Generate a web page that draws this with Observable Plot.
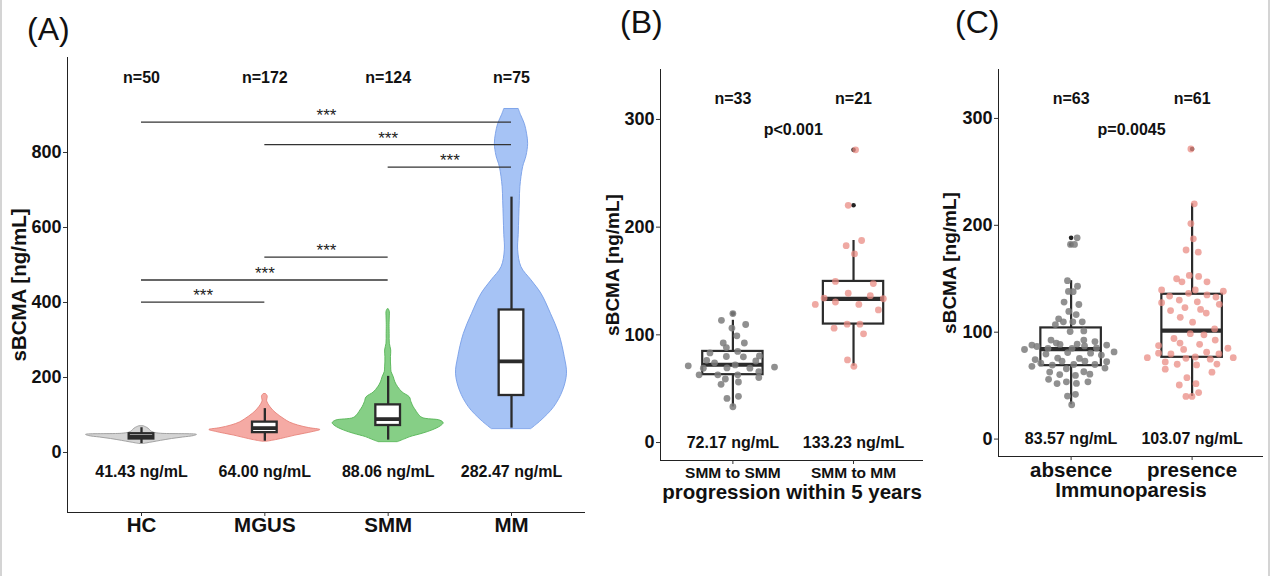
<!DOCTYPE html>
<html><head><meta charset="utf-8">
<script src="https://cdn.jsdelivr.net/npm/d3@7"></script>
<script src="https://cdn.jsdelivr.net/npm/@observablehq/plot@0.6"></script>
<style>
body{margin:0;background:#fff;}
#root{position:relative;width:1270px;height:576px;overflow:hidden;background:#fff;font-family:"Liberation Sans",Arial,sans-serif;}
.edge{position:absolute;top:0;width:2px;height:576px;background:#d4d4d4;}
.panel{position:absolute;top:0;}
.tag{position:absolute;font-size:32px;line-height:1;color:#111;font-family:"Liberation Sans",Arial,sans-serif;}
</style></head><body>
<div id="root">
  <div id="pA" class="panel" style="left:0px"></div>
  <div id="pB" class="panel" style="left:590px"></div>
  <div id="pC" class="panel" style="left:930px"></div>
  <div class="tag" style="left:27px;top:13px">(A)</div>
  <div class="tag" style="left:620px;top:6px">(B)</div>
  <div class="tag" style="left:955px;top:6px">(C)</div>
  <div class="edge" style="left:0"></div>
  <div class="edge" style="right:0"></div>
</div>
<script>
// ---------------- Panel A data ----------------
const catsA = ["HC", "MGUS", "SMM", "MM"];
const nA = ["n=50", "n=172", "n=124", "n=75"];
const meanA = ["41.43 ng/mL", "64.00 ng/mL", "88.06 ng/mL", "282.47 ng/mL"];
const ticksA = [0, 200, 400, 600, 800];

// violin outlines: value, relative half-width
const violinHC_y = [23, 27, 31, 36, 40, 44, 47, 50, 53, 57, 62, 66, 70];
const violinHC_w = [0.05, 0.2, 0.35, 0.55, 0.75, 0.95, 1.0, 0.35, 0.22, 0.17, 0.14, 0.1, 0.04];
const violinMGUS_y = [29, 33, 39, 45, 50, 55, 60, 65, 72, 80, 88, 96, 104, 112, 121, 130, 138, 145, 150, 156];
const violinMGUS_w = [0.05, 0.2, 0.38, 0.55, 0.72, 0.88, 1.0, 0.8, 0.6, 0.45, 0.36, 0.28, 0.21, 0.15, 0.1, 0.06, 0.04, 0.05, 0.05, 0.02];
const violinSMM_y = [28, 35, 41, 50, 59, 70, 78, 85, 92, 103, 112, 121, 134, 147, 160, 174, 187, 201, 215, 227, 240, 255, 272, 290, 316, 340, 352, 365, 375, 382];
const violinSMM_w = [0.18, 0.3, 0.4, 0.62, 0.8, 0.95, 1.0, 0.94, 0.62, 0.54, 0.5, 0.46, 0.42, 0.39, 0.26, 0.18, 0.13, 0.1, 0.06, 0.055, 0.05, 0.05, 0.055, 0.03, 0.027, 0.025, 0.027, 0.03, 0.03, 0.01];
const violinMM_y = [63, 85, 121, 165, 210, 254, 316, 370, 423, 459, 494, 539, 580, 627, 670, 708, 761, 790, 823, 850, 876, 900, 916];
const violinMM_w = [0.36, 0.54, 0.77, 0.93, 1.0, 0.96, 0.86, 0.71, 0.54, 0.36, 0.18, 0.12, 0.13, 0.14, 0.15, 0.16, 0.21, 0.27, 0.3, 0.28, 0.24, 0.17, 0.13];

// box statistics
const boxA_lo = [24, 30, 33, 65];
const boxA_q1 = [36, 53, 72, 152];
const boxA_med = [42, 65, 89, 243];
const boxA_q3 = [50, 81, 127, 380];
const boxA_hi = [66, 117, 203, 681];

// significance brackets (group indices 1..4)
const bracketFrom = [1, 2, 3, 2, 1, 1];
const bracketTo = [4, 4, 4, 3, 3, 2];
const bracketAt = [881, 821, 761, 521, 460, 401];
const bracketLabel = ["***", "***", "***", "***", "***", "***"];

// ---------------- Panel B data ----------------
const catsB = ["SMM to SMM", "SMM to MM"];
const nB = ["n=33", "n=21"];
const meanB = ["72.17 ng/mL", "133.23 ng/mL"];
const pB = "p<0.001";
const ticksBC = [0, 100, 200, 300];
const bLeftVal = [119.7,113.5,109.6,106.3,99.1,92.4,92.4,88.2,83.2,84.6,79.9,79.6,80.4,76.3,74.0,75.7,71.2,72.1,70.1,69.0,69.3,69.0,65.7,62.9,62.9,62.9,60.4,59.0,56.2,54.0,40.9,42.9,33.2];
const bLeftOff = [0,-0.095,0.106,-0.008,0.033,-0.08,0.095,-0.054,-0.19,0.04,-0.054,0.087,0.22,-0.217,-0.152,0.19,-0.37,0.019,0.345,-0.245,-0.049,0.141,0.215,-0.28,-0.125,0.04,0.215,-0.0625,0.046,-0.098,-0.049,0.046,0];
const bRightVal = [271.8,220.3,187.6,182.8,175.2,149.6,147.6,138.6,136.4,134.1,133.5,130.5,128.2,128.2,123.1,109.9,109.9,106.2,100.9,76.7,70.8];
const bRightOff = [0.017,-0.044,0.067,-0.061,0.008,-0.15,0.164,-0.044,0.139,-0.244,0.247,-0.15,0.044,-0.317,0.206,-0.053,0.053,-0.161,0.083,-0.05,0.003];
const boxB_lo = [33, 70.8];
const boxB_q1 = [63, 110];
const boxB_med = [72.2, 133.3];
const boxB_q3 = [84.6, 149.6];
const boxB_hi = [113.5, 187.6];
const outB_group = [1, 2, 2];
const outB_val = [119.7, 271.8, 220.3];

// ---------------- Panel C data ----------------
const catsC = ["absence", "presence"];
const nC = ["n=63", "n=61"];
const meanC = ["83.57 ng/mL", "103.07 ng/mL"];
const pC = "p=0.0045";
const cLeftVal = [188.3,182.1,182.1,148.2,143.0,138.2,137.9,128.2,125.9,119.4,116.5,112.5,109.7,107.1,109.7,109.7,100.6,101.2,92.6,89.8,92.6,91.2,88.0,86.6,88.6,88.9,87.2,88.0,83.8,84.9,84.9,85.2,81.5,79.5,80.9,80.4,75.8,75.5,78.6,74.4,72.9,72.9,72.4,71.0,68.1,69.2,69.8,69.8,66.4,65.8,62.7,60.4,59.6,63.0,60.7,55.9,53.6,51.9,52.1,53.6,40.2,41.9,32.1];
const cLeftOff = [0.05,-0.005,0.028,-0.03,0.053,-0.022,0.017,-0.058,0.064,-0.019,0.042,-0.103,-0.064,-0.13,0.014,0.092,-0.008,0.105,-0.166,-0.122,0.105,0.197,-0.324,-0.283,-0.0915,0.05,0.111,0.294,-0.385,-0.191,0.008,0.21,0.355,-0.208,-0.028,0.161,-0.111,0.069,0.25,-0.297,-0.075,0.114,0.294,-0.25,-0.324,-0.155,0.022,0.197,0.28,-0.039,-0.177,-0.094,0.036,0.105,0.155,-0.186,-0.039,-0.116,0.044,0.139,-0.03,0.036,0.005];
const cRightVal = [271.4,220.1,201.6,187.4,176.9,174.9,150.0,147.1,153.1,152.2,147.1,139.5,136.4,139.5,134.9,132.9,138.3,127.6,133.8,130.1,128.4,126.1,120.2,123.0,121.3,117.9,113.9,109.4,103.1,98.6,97.5,94.1,92.6,89.8,88.7,87.5,83.9,85.0,80.4,79.6,81.3,79.6,76.2,75.6,76.8,74.8,76.2,72.2,70.0,69.4,70.2,65.4,62.6,57.5,50.6,51.8,43.5,39.9,39.9];
const cRightOff = [-0.01,0.018,-0.01,0.01,-0.05,0.051,-0.128,-0.084,-0.023,0.054,0.123,-0.252,-0.029,0.026,0.123,0.197,0.258,-0.252,-0.186,-0.106,0.043,0.225,-0.178,-0.059,0.07,0.117,-0.098,0.004,0.186,-0.015,0.098,-0.15,0.191,-0.1,0.062,-0.277,-0.07,0.296,-0.277,-0.175,0.12,0.222,-0.37,-0.051,0.026,0.15,0.34,-0.222,-0.123,0.037,0.205,-0.222,0.164,-0.043,-0.106,0.032,0.054,-0.051,-0.001];
const boxC_lo = [32.1, 39.9];
const boxC_q1 = [68.7, 76.5];
const boxC_med = [84.2, 101.5];
const boxC_q3 = [104, 135.5];
const boxC_hi = [148.2, 220.1];
const outC_group = [1, 1, 2];
const outC_val = [188.3, 182.1, 271.4];

// ---------------- helpers ----------------
const FONT = "Liberation Sans, Arial, Helvetica, sans-serif";
const INK = "#2b2b2b";
const baseStyle = {fontFamily: FONT, background: "transparent", overflow: "visible", color: "#111"};
const T = {fontWeight: "bold", fill: "#111", lineAnchor: "middle"};

function boxRows(lo, q1, med, q3, hi) {
  return lo.map((_, i) => ({g: i + 1, lo: lo[i], q1: q1[i], med: med[i], q3: q3[i], hi: hi[i]}));
}
function boxMarks(rows, half, sw, medW) {
  return [
    Plot.ruleX(rows, {x: "g", y1: "lo", y2: "hi", stroke: INK, strokeWidth: sw}),
    Plot.rect(rows, {x1: d => d.g - half, x2: d => d.g + half, y1: "q1", y2: "q3", fill: "white", stroke: INK, strokeWidth: sw}),
    Plot.ruleY(rows, {y: "med", x1: d => d.g - half, x2: d => d.g + half, stroke: INK, strokeWidth: medW})
  ];
}
function axisMarks(xDom, yDom, yTicks, cats, xFont, xPad) {
  return [
    Plot.ruleX([xDom[0]], {stroke: "#222", strokeWidth: 1}),
    Plot.ruleY([yDom[0]], {stroke: "#222", strokeWidth: 1}),
    Plot.axisY({ticks: yTicks, tickSize: 4, tickPadding: 2, fontSize: 18, fontWeight: "bold", stroke: "#333", label: null, fill: "#111"}),
    Plot.axisX({ticks: cats.map((_, i) => i + 1), tickFormat: d => cats[d - 1], tickSize: 4, tickPadding: xPad, fontSize: xFont, fontWeight: "bold", stroke: "#333", label: null, fill: "#111"})
  ];
}
function boldAxes(svg) {
  d3.select(svg).selectAll('g[aria-label$="tick label"]').attr("font-weight", "bold").attr("fill", "#111");
}
function pointRows(g, vals, offs) {
  return vals.map((v, i) => ({x: g + offs[i], y: v}));
}

// ---------------- Panel A ----------------
{
  const xDom = [0.4, 4.6], yDom = [-160, 1053.3];
  const VW = 0.45;
  const violins = [
    {g: 1, ys: violinHC_y, ws: violinHC_w, fill: "#d4d4d4", stroke: "#9a9a9a"},
    {g: 2, ys: violinMGUS_y, ws: violinMGUS_w, fill: "#f5aaa4", stroke: "#e6837b"},
    {g: 3, ys: violinSMM_y, ws: violinSMM_w, fill: "#86cf86", stroke: "#55b455"},
    {g: 4, ys: violinMM_y, ws: violinMM_w, fill: "#a6c3f5", stroke: "#779ee8"}
  ];
  const brackets = bracketFrom.map((a, i) => ({a, b: bracketTo[i], y: bracketAt[i], label: bracketLabel[i]}));
  const labels = catsA.map((c, i) => ({g: i + 1, n: nA[i], m: meanA[i]}));
  const plot = Plot.plot({
    width: 590, height: 576,
    marginLeft: 67, marginRight: 5, marginTop: 57, marginBottom: 64,
    x: {type: "linear", domain: xDom},
    y: {type: "linear", domain: yDom},
    style: baseStyle,
    marks: [
      ...violins.map(v => Plot.areaX(v.ys.map((y, i) => ({y, w: v.ws[i]})), {
        y: "y", x1: d => v.g - d.w * VW, x2: d => v.g + d.w * VW,
        fill: v.fill, stroke: v.stroke, strokeWidth: 0.9, curve: "catmull-rom"
      })),
      ...boxMarks(boxRows(boxA_lo, boxA_q1, boxA_med, boxA_q3, boxA_hi), 0.1, 2.3, 3.8),
      Plot.ruleY(brackets, {y: "y", x1: "a", x2: "b", stroke: "#333", strokeWidth: 1.3}),
      Plot.text(brackets, {x: d => (d.a + d.b) / 2, y: "y", text: "label", lineAnchor: "bottom", dy: -1, fontSize: 17, fill: "#222"}),
      Plot.text(labels, {x: "g", text: "n", frameAnchor: "top", dy: 20.5, fontSize: 16, ...T}),
      Plot.text(labels, {x: "g", text: "m", frameAnchor: "bottom", dy: -40.8, fontSize: 16, ...T}),
      Plot.text(["sBCMA [ng/mL]"], {frameAnchor: "left", textAnchor: "middle", rotate: -90, dx: -48, fontSize: 20.5, ...T}),
      ...axisMarks(xDom, yDom, ticksA, catsA, 20.5, 1)
    ]
  });
  boldAxes(plot);
  document.getElementById("pA").appendChild(plot);
}

// ---------------- Panels B & C ----------------
function jitterPanel(opts) {
  const {el, width, mL, mR, mT, mB, xDom, yDom, cats, leftVal, leftOff, rightVal, rightOff,
         box, outG, outV, ns, means, p, xTitle, xFont, xPad, yTitleDx, xTitleDy, medDy, nDy, pDy} = opts;
  const labels = cats.map((c, i) => ({g: i + 1, n: ns[i], m: means[i]}));
  const outs = outG.map((g, i) => ({x: g, y: outV[i]}));
  const plot = Plot.plot({
    width, height: 576,
    marginLeft: mL, marginRight: mR, marginTop: mT, marginBottom: mB,
    x: {type: "linear", domain: xDom},
    y: {type: "linear", domain: yDom},
    style: baseStyle,
    marks: [
      ...boxMarks(box, 0.25, 2.2, 4.2),
      Plot.dot(outs, {x: "x", y: "y", r: 2.3, fill: "#222", stroke: "none"}),
      Plot.dot(pointRows(1, leftVal, leftOff), {x: "x", y: "y", r: 3.4, fill: "#7d7d7d", fillOpacity: 0.85, stroke: "none"}),
      Plot.dot(pointRows(2, rightVal, rightOff), {x: "x", y: "y", r: 3.4, fill: "#ea8c84", fillOpacity: 0.75, stroke: "none"}),
      Plot.text(labels, {x: "g", text: "n", frameAnchor: "top", dy: nDy, fontSize: 16, ...T}),
      Plot.text([p], {x: [1.5], frameAnchor: "top", dy: pDy, fontSize: 16, ...T}),
      Plot.text(labels, {x: "g", text: "m", frameAnchor: "bottom", dy: medDy, fontSize: 16, ...T}),
      Plot.text(["sBCMA [ng/mL]"], {frameAnchor: "left", textAnchor: "middle", rotate: -90, dx: yTitleDx, fontSize: 19, ...T}),
      Plot.text([xTitle], {frameAnchor: "bottom", dy: xTitleDy, fontSize: 20.5, ...T}),
      ...axisMarks(xDom, yDom, ticksBC, cats, xFont, xPad)
    ]
  });
  boldAxes(plot);
  document.getElementById(el).appendChild(plot);
}

jitterPanel({
  el: "pB", width: 340, mL: 70, mR: 7, mT: 69, mB: 116,
  xDom: [0.4, 2.58], yDom: [-16.7, 346.4], cats: catsB,
  leftVal: bLeftVal, leftOff: bLeftOff, rightVal: bRightVal, rightOff: bRightOff,
  box: boxRows(boxB_lo, boxB_q1, boxB_med, boxB_q3, boxB_hi),
  outG: outB_group, outV: outB_val, ns: nB, means: meanB, p: pB,
  xTitle: "progression within 5 years", xFont: 15.5, xPad: 2,
  yTitleDx: -47.5, xTitleDy: 32, medDy: -17.3, nDy: 29.3, pDy: 60.5
});

jitterPanel({
  el: "pC", width: 340, mL: 68, mR: 7, mT: 69, mB: 120,
  xDom: [0.4, 2.59], yDom: [-16.3, 345.8], cats: catsC,
  leftVal: cLeftVal, leftOff: cLeftOff, rightVal: cRightVal, rightOff: cRightOff,
  box: boxRows(boxC_lo, boxC_q1, boxC_med, boxC_q3, boxC_hi),
  outG: outC_group, outV: outC_val, ns: nC, means: meanC, p: pC,
  xTitle: "Immunoparesis", xFont: 20.5, xPad: 2,
  yTitleDx: -49, xTitleDy: 34.3, medDy: -17.4, nDy: 29, pDy: 60
});
</script>
</body></html>
